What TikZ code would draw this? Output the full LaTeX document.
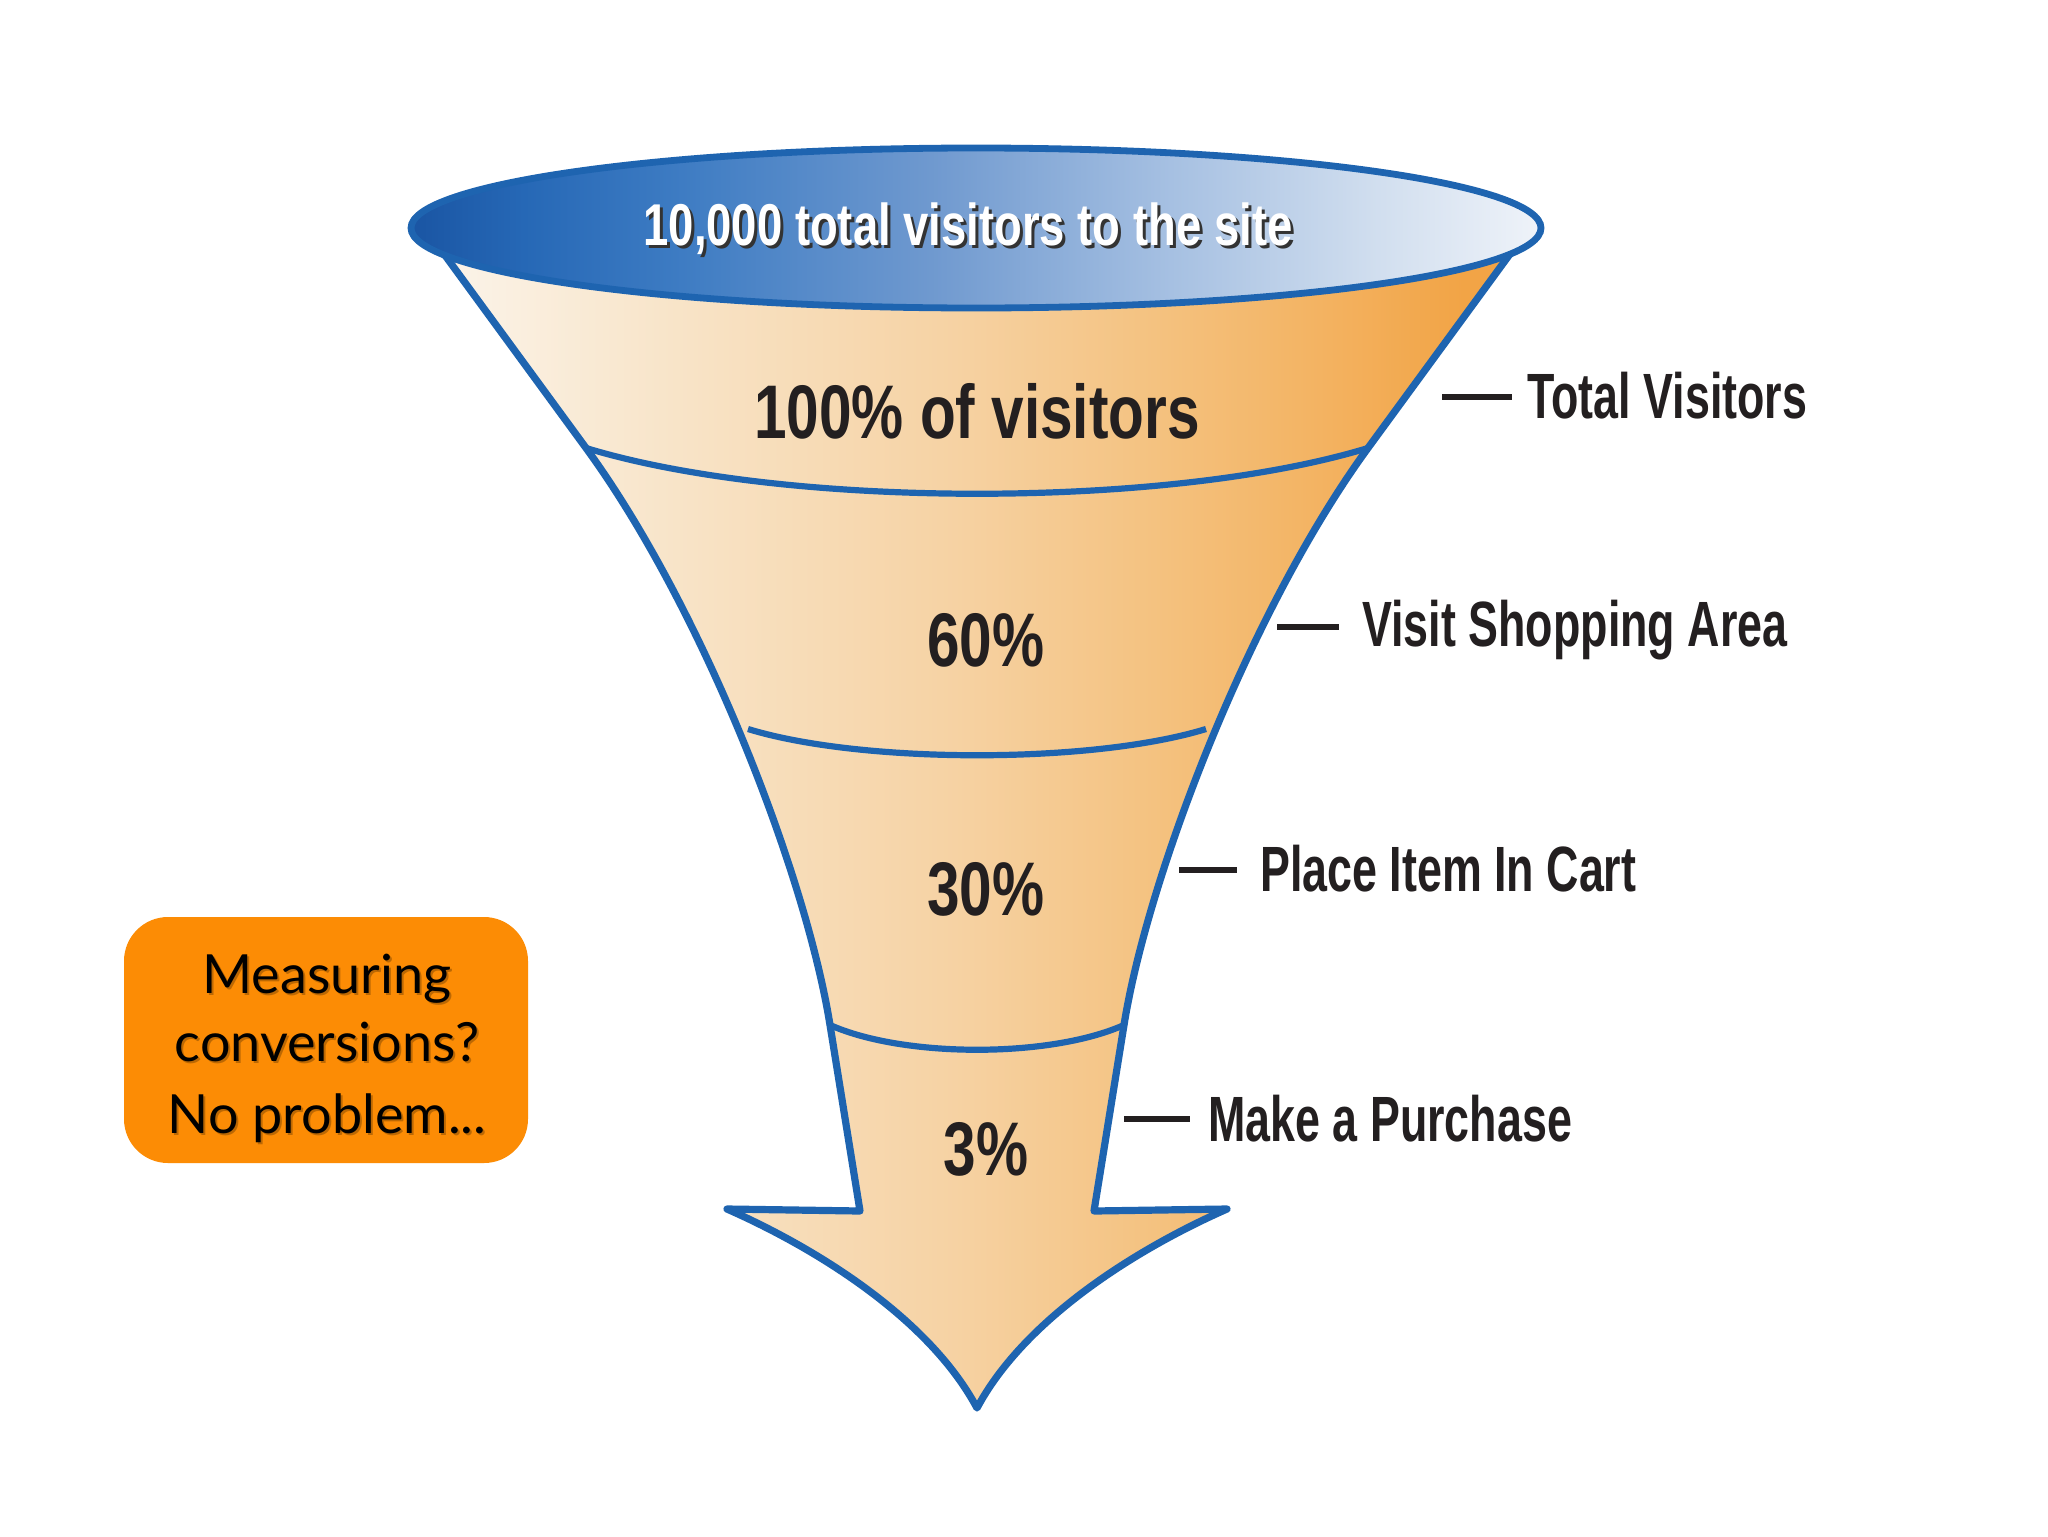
\documentclass[tikz,border=0pt]{standalone}
\usepackage{fontspec}
\setmainfont{Lato}
\newfontfamily\dinA[FakeStretch=0.77]{Liberation Sans}
\newfontfamily\dinB[FakeStretch=0.70]{Liberation Sans}
\newfontfamily\boxfont{Lato}
\definecolor{fblue}{RGB}{30,100,176}
\definecolor{textdark}{RGB}{35,31,32}
\definecolor{boxorange}{RGB}{252,140,5}
\definecolor{fA}{HTML}{FBF5EC}
\definecolor{fB}{HTML}{F8E3C6}
\definecolor{fC}{HTML}{F6D2A3}
\definecolor{fD}{HTML}{F4C280}
\definecolor{fE}{HTML}{F3B464}
\definecolor{fF}{HTML}{F2A446}
\definecolor{eA}{HTML}{1A55A3}
\definecolor{eB}{HTML}{2668B6}
\definecolor{eC}{HTML}{3E7CC3}
\definecolor{eD}{HTML}{6F99CF}
\definecolor{eE}{HTML}{A3BEE1}
\definecolor{eF}{HTML}{D2DFEF}
\definecolor{eG}{HTML}{EFF3F9}
\pgfdeclarehorizontalshading{funnelshade}{100bp}{color(0bp)=(fA); color(25bp)=(fA); color(37bp)=(fB); color(49bp)=(fC); color(58bp)=(fD); color(65bp)=(fE); color(72bp)=(fF); color(100bp)=(fF)}
\pgfdeclarehorizontalshading{ellshade}{100bp}{color(0bp)=(eA); color(25bp)=(eA); color(30bp)=(eB); color(37bp)=(eC); color(48bp)=(eD); color(58bp)=(eE); color(68bp)=(eF); color(75bp)=(eG); color(100bp)=(eG)}
\begin{document}
\begin{tikzpicture}[x=0.5pt,y=-0.5pt,
  pct/.style={font=\dinA\bfseries\fontsize{38}{44}\selectfont, text=textdark, inner sep=0pt, anchor=base},
  toptxt/.style={font=\dinA\bfseries\fontsize{29.5}{34}\selectfont, inner sep=0pt, anchor=base},
  lbl/.style={font=\dinB\bfseries\fontsize{32}{38}\selectfont, text=textdark, inner sep=0pt, anchor=base west},
  tickline/.style={draw=textdark, line width=3pt},
  bandline/.style={draw=fblue, line width=3.1pt},
  boxtxt/.style={font=\boxfont\fontsize{27}{32}\selectfont, text=black, inner sep=0pt, anchor=base},
  boxshadow/.style={font=\boxfont\fontsize{27}{32}\selectfont, text=black, opacity=0.25, inner sep=0pt, anchor=base},
  notebox/.style={fill=boxorange, rounded corners=22pt, minimum width=202pt, minimum height=123pt, inner sep=0pt}
]
\useasboundingbox[fill=white] (0,0) rectangle (2048,1536);

% funnel body
\shadedraw[shading=funnelshade, draw=fblue, line width=3.6pt, line join=round]
  (425,228) -- (586,448)
  .. controls (703,608) and (806,875) .. (830,1025)
  -- (860,1211)
  -- (727,1209)
  .. controls (820,1250) and (930,1320) .. (977,1408)
  .. controls (1024,1320) and (1134,1250) .. (1227,1209)
  -- (1094,1211)
  -- (1124,1025)
  .. controls (1148,875) and (1251,608) .. (1368,448)
  -- (1529,228)
  -- cycle;

% band separators
\draw[bandline] (586,448) .. controls (786,509) and (1168,509) .. (1368,448);
\draw[bandline] (748,729) .. controls (862,764) and (1092,764) .. (1206,729);
\draw[bandline] (830,1025) .. controls (904,1058) and (1050,1058) .. (1124,1025);

% top ellipse
\shadedraw[shading=ellshade, draw=fblue, line width=3.4pt] (976,228) ellipse [x radius=282.5pt, y radius=40pt];
\node[toptxt, text=black!80] (topshadow) at (971,248) {10,000 total visitors to the site};
\node[toptxt, text=white] (toptext) at (968,245) {10,000 total visitors to the site};

% percentages
\node[pct] (p100) at (977,438) {100\% of visitors};
\node[pct] (p60) at (986,666) {60\%};
\node[pct] (p30) at (986,915) {30\%};
\node[pct] (p3) at (986,1175) {3\%};

% stage labels
\node[lbl] (l1) at (1527,418) {Total Visitors};
\node[lbl] (l2) at (1362,646) {Visit Shopping Area};
\node[lbl] (l3) at (1260,891) {Place Item In Cart};
\node[lbl] (l4) at (1208,1141) {Make a Purchase};
\coordinate (d1a) at (1442,397); \coordinate (d1b) at (1512,397);
\coordinate (d2a) at (1277,627); \coordinate (d2b) at (1339,627);
\coordinate (d3a) at (1179,870); \coordinate (d3b) at (1237,870);
\coordinate (d4a) at (1124,1119); \coordinate (d4b) at (1190,1119);
\draw[tickline] (d1a) -- (d1b);
\draw[tickline] (d2a) -- (d2b);
\draw[tickline] (d3a) -- (d3b);
\draw[tickline] (d4a) -- (d4b);

% note box
\node[notebox] (note) at (326,1040) {};
\node[boxshadow] (m1s) at (329,995) {Measuring};
\node[boxshadow] (m2s) at (329,1063) {conversions?};
\node[boxshadow] (m3s) at (329,1135) {No problem...};
\node[boxtxt] (m1) at (327,993) {Measuring};
\node[boxtxt] (m2) at (327,1061) {conversions?};
\node[boxtxt] (m3) at (327,1133) {No problem...};
\end{tikzpicture}
\end{document}
